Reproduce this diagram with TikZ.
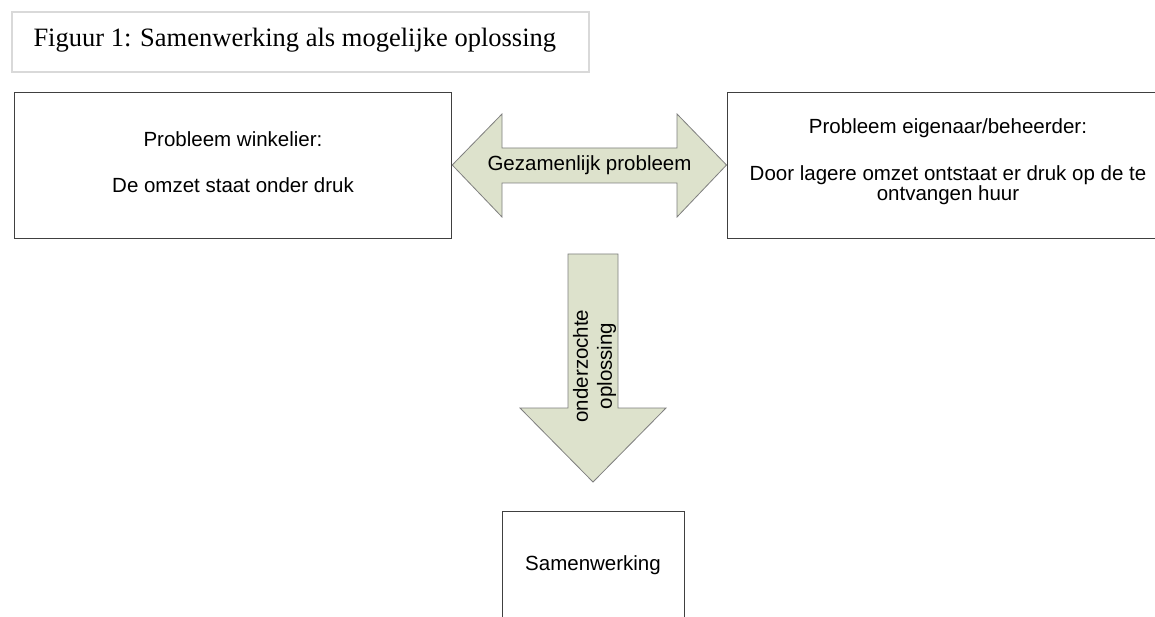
\documentclass[tikz,border=0pt]{standalone}
\usepackage{fontspec}
\newfontfamily\arialf{Liberation Sans}
\newfontfamily\timesf{Liberation Serif}
\definecolor{arrowfill}{HTML}{DDE2CC}
\definecolor{arrowline}{HTML}{7F7F7F}
\definecolor{boxline}{HTML}{404040}
\definecolor{titleline}{HTML}{D9D9D9}
\begin{document}
\begin{tikzpicture}[x=1pt,y=-1pt,
  box/.style={draw=boxline, line width=1pt, fill=white, inner sep=0pt},
  txt/.style={font=\arialf\fontsize{20.5}{20.5}\selectfont, align=center, inner sep=0pt, text=black},
  bigarrow/.style={draw=arrowline, line width=0.8pt, fill=arrowfill, line join=miter}]
\useasboundingbox (0,0) rectangle (1155,617);
\clip (0,0) rectangle (1155,617);
\fill[white] (0,0) rectangle (1155,617);
% title
\node[draw=titleline, line width=2pt, minimum width=577pt, minimum height=59.5pt, inner sep=0pt] (titlebox) at (300.8,42) {};
\node[anchor=base west, inner sep=0pt, font=\timesf\fontsize{26.5}{26.5}\selectfont] (title) at (33.3,46.7) {Figuur 1: Samenwerking als mogelijke oplossing};
% boxes
\node[box, minimum width=437.5pt, minimum height=146.5pt] (wink) at (233,165.5) {};
\node[txt] (winkT) at (233,161.8) {Probleem winkelier:\\[25.5pt]De omzet staat onder druk};
\node[box, minimum width=444pt, minimum height=146.5pt] (eig) at (949,165.5) {};
\node[txt] (eigT) at (948,161.5) {Probleem eigenaar/beheerder:\\[26.5pt]Door lagere omzet ontstaat er druk op de te\\ontvangen huur};
\node[box, minimum width=182pt, minimum height=140pt] (samen) at (593,581) {};
\node[txt] (samenT) at (593,565) {Samenwerking};
% double arrow
\coordinate (dl) at (wink.east |- 0,165);
\coordinate (dr) at (eig.west |- 0,165);
\draw[bigarrow] (dl) -- (502,114) -- (502,148) -- (677,148) -- (677,114) -- (dr)
  -- (677,217) -- (677,183) -- (502,183) -- (502,217) -- cycle;
\node[txt] (gez) at (589.5,165) {Gezamenlijk probleem};
% down arrow
\coordinate (dtop) at (593,254);
\coordinate (dtip) at (593,482);
\draw[bigarrow] (568,254) -- (618,254) -- (618,408) -- (666,408) -- (dtip)
  -- (520,408) -- (568,408) -- cycle;
\node[txt, rotate=90, font=\arialf\fontsize{20.5}{24}\selectfont] (ond) at (594.5,366) {onderzochte\\oplossing};
\end{tikzpicture}
\end{document}
